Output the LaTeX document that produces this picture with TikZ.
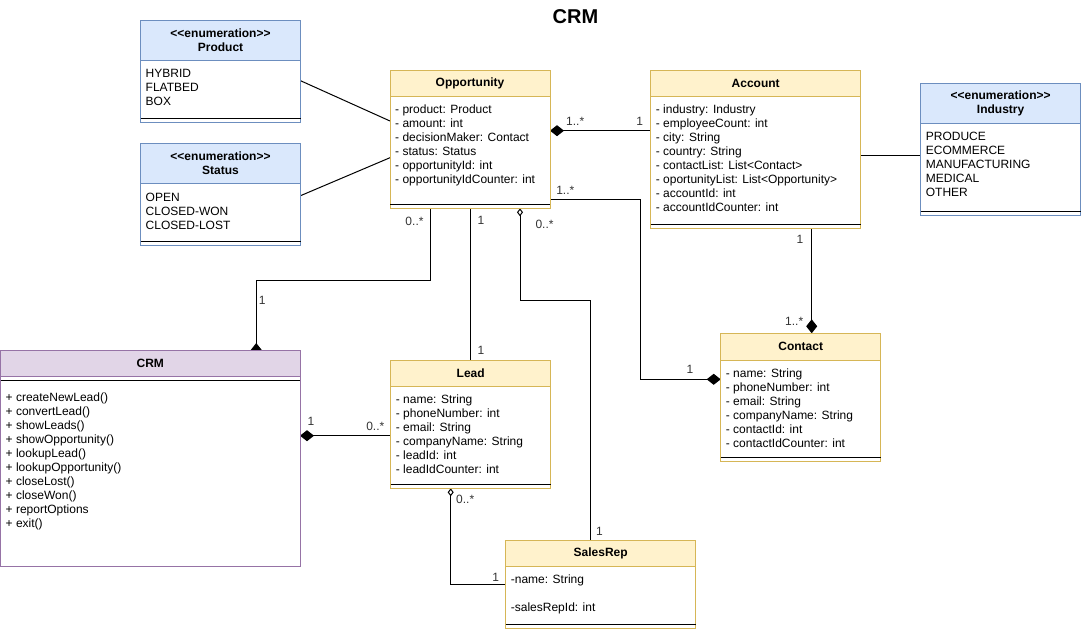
\documentclass[tikz,border=0pt]{standalone}
\usepackage{fontspec}
\setmainfont{Liberation Sans}
\usetikzlibrary{arrows.meta,positioning}

\definecolor{yfill}{HTML}{FFF2CC}
\definecolor{yline}{HTML}{D6B656}
\definecolor{bfill}{HTML}{DAE8FC}
\definecolor{bline}{HTML}{6C8EBF}
\definecolor{pfill}{HTML}{E1D5E7}
\definecolor{pline}{HTML}{9673A6}

\pgfdeclarelayer{bg}
\pgfsetlayers{bg,main}

\begin{document}
\begin{tikzpicture}[x=1pt,y=-1pt,font=\fontsize{12}{14}\selectfont]
\tikzset{head node/.style={rectangle, draw, line width=1pt, outer sep=0pt,
		inner sep=0pt, anchor=north west, align=center,
		font=\fontsize{12}{14}\selectfont\bfseries}, }
\tikzset{body node/.style={rectangle, draw, fill=white, line width=1pt,
		outer sep=0pt, anchor=north west}, }
\tikzset{yhead/.style={head node, draw=yline, fill=yfill},
	ybody/.style={body node, draw=yline}, }
\tikzset{bhead/.style={head node, draw=bline, fill=bfill},
	bbody/.style={body node, draw=bline}, }
\tikzset{phead/.style={head node, draw=pline, fill=pfill},
	pbody/.style={body node, draw=pline}, }
\tikzset{attr/.style={anchor=north west, inner sep=0pt, align=left}, }
\tikzset{sep/.style={line width=1pt}, }
\tikzset{linea/.style={line width=1pt}, }
\tikzset{comp start/.style={linea, arrows={Diamond[length=14pt,width=11pt]-}}, }
\tikzset{comp end/.style={linea, arrows={-Diamond[length=14pt,width=11pt]}}, }
\tikzset{aggr/.style={linea, arrows={Diamond[open,length=8pt,width=6pt]-}}, }
\tikzset{lbl/.style={inner sep=1pt, text=black!80}, }
\useasboundingbox (0,0) rectangle (1081,629);
    \node[font=\fontsize{20}{24}\selectfont\bfseries] (title) at (575.5,17) {CRM};
%
    \node[bhead, minimum width=160pt, minimum height=40.7pt] (prod) at (140.5,20) {<{}<enumeration>{}>\\Product};
    \node[bbody, minimum width=160pt, minimum height=61.6pt] (prod-b) at (prod.south west) {};
    \node[attr] (prod-t) at ([shift={(5pt,-8.3pt)}]prod-b.north west) {HYBRID\\FLATBED\\BOX};
    \draw[sep] ([yshift=3.6pt]prod-b.south west) -- ([yshift=3.6pt]prod-b.south east);
%
    \node[bhead, minimum width=160pt, minimum height=40pt] (stat) at (140.5,143.3) {<{}<enumeration>{}>\\Status};
    \node[bbody, minimum width=160pt, minimum height=62pt] (stat-b) at (stat.south west) {};
    \node[attr] (stat-t) at ([shift={(5pt,-9.4pt)}]stat-b.north west) {OPEN\\CLOSED-WON\\CLOSED-LOST};
    \draw[sep] ([yshift=3.6pt]stat-b.south west) -- ([yshift=3.6pt]stat-b.south east);
%
    \node[yhead, minimum width=160pt, minimum height=26.7pt] (opp) at (390,70) {Opportunity};
    \node[ybody, minimum width=160pt, minimum height=111.6pt] (opp-b) at (opp.south west) {};
    \node[attr] (opp-t) at ([shift={(5pt,-8.3pt)}]opp-b.north west) {- product: Product\\- amount: int\\- decisionMaker: Contact\\- status: Status\\- opportunityId: int\\- opportunityIdCounter: int};
    \draw[sep] ([yshift=3.6pt]opp-b.south west) -- ([yshift=3.6pt]opp-b.south east);
%
    \node[yhead, minimum width=210pt, minimum height=25.3pt] (acc) at (650.7,70.7) {Account};
    \node[ybody, minimum width=210pt, minimum height=132.3pt] (acc-b) at (acc.south west) {};
    \node[attr] (acc-t) at ([shift={(5pt,-9pt)}]acc-b.north west) {- industry: Industry\\- employeeCount: int\\- city: String\\- country: String\\- contactList: List<Contact>\\- oportunityList: List<Opportunity>\\- accountId: int\\- accountIdCounter: int};
    \draw[sep] ([yshift=3.6pt]acc-b.south west) -- ([yshift=3.6pt]acc-b.south east);
%
    \node[bhead, minimum width=159.8pt, minimum height=40pt] (ind) at (920.7,83.3) {<{}<enumeration>{}>\\Industry};
    \node[bbody, minimum width=159.8pt, minimum height=91.7pt] (ind-b) at (ind.south west) {};
    \node[attr] (ind-t) at ([shift={(5pt,-9pt)}]ind-b.north west) {PRODUCE\\ECOMMERCE\\MANUFACTURING\\MEDICAL\\OTHER};
    \draw[sep] ([yshift=3.6pt]ind-b.south west) -- ([yshift=3.6pt]ind-b.south east);
%
    \node[phead, minimum width=299.5pt, minimum height=26.7pt] (crm) at (0.5,350) {CRM};
    \node[pbody, minimum width=299.5pt, minimum height=190pt] (crm-b) at (crm.south west) {};
    \node[attr] (crm-t) at ([shift={(5pt,-16pt)}]crm-b.north west) {+ createNewLead()\\+ convertLead()\\+ showLeads()\\+ showOpportunity()\\+ lookupLead()\\+ lookupOpportunity()\\+ closeLost()\\+ closeWon()\\+ reportOptions\\+ exit()};
    \draw[sep] ([yshift=-4pt]crm-b.north west) -- ([yshift=-4pt]crm-b.north east);
%
    \node[yhead, minimum width=160pt, minimum height=25.3pt] (lead) at (390.7,360.7) {Lead};
    \node[ybody, minimum width=160pt, minimum height=102.3pt] (lead-b) at (lead.south west) {};
    \node[attr] (lead-t) at ([shift={(5pt,-9pt)}]lead-b.north west) {- name: String\\- phoneNumber: int\\- email: String\\- companyName: String\\- leadId: int\\- leadIdCounter: int};
    \draw[sep] ([yshift=3.6pt]lead-b.south west) -- ([yshift=3.6pt]lead-b.south east);
%
    \node[yhead, minimum width=160pt, minimum height=26.7pt] (cont) at (720.7,333.3) {Contact};
    \node[ybody, minimum width=160pt, minimum height=101pt] (cont-b) at (cont.south west) {};
    \node[attr] (cont-t) at ([shift={(5pt,-8.3pt)}]cont-b.north west) {- name: String\\- phoneNumber: int\\- email: String\\- companyName: String\\- contactId: int\\- contactIdCounter: int};
    \draw[sep] ([yshift=3.6pt]cont-b.south west) -- ([yshift=3.6pt]cont-b.south east);
%
    \node[yhead, minimum width=190pt, minimum height=26pt] (rep) at (505.7,540.7) {SalesRep};
    \node[ybody, minimum width=190pt, minimum height=61.6pt] (rep-b) at (rep.south west) {};
    \node[attr] (rep-t) at ([shift={(5pt,-7.7pt)}]rep-b.north west) {-name: String\\[14pt]-salesRepId: int};
    \draw[sep] ([yshift=3.6pt]rep-b.south west) -- ([yshift=3.6pt]rep-b.south east);
%
\begin{pgfonlayer}{bg}
    \draw[linea] ([yshift=-20pt]prod-b.north east) -- ([yshift=-24.3pt]opp-b.north west);
    \draw[linea] ([yshift=-12.4pt]stat-b.north east) -- ([yshift=-61pt]opp-b.north west);
    \draw[linea] ([yshift=-59.7pt]acc-b.north east) -- ([yshift=-59.7pt]acc-b.north east -| ind-b.west);
%
    \draw[comp start] ([yshift=-34pt]opp-b.north east) -- node[lbl,pos=0.25,above=4pt]{1..*} node[lbl,pos=0.89,above=4pt]{1} ([yshift=-34pt]opp-b.north east -| acc-b.west);
    \draw[comp end] ([yshift=-73pt]opp-b.north east) -- ([yshift=-103pt]opp-b.north east) -- node[lbl,pos=0.17,above=4pt]{1..*} ++(90,0) |- node[lbl,pos=0.81,above=4pt]{1} ([yshift=-19.3pt]cont-b.north west);
    \draw[comp end] ([xshift=56pt]acc-b.south) -- node[lbl,pos=0.11,left=7pt]{1} node[lbl,pos=0.89,left=7pt]{1..*} ([xshift=56pt]acc-b.south |- cont.north);
    \draw[comp end] ([xshift=40pt]opp-b.south west) -- node[lbl,pos=0.18,left=5pt]{0..*} ++(0,72) -| node[lbl,pos=0.63,right=1pt]{1} ([xshift=106pt,yshift=-7pt]crm.north);
    \draw[comp start] ([yshift=-59pt]crm-b.north east) -- node[lbl,pos=0.12,above=9pt]{1} node[lbl,pos=0.83,above=4pt]{0..*} ([yshift=-59pt]crm-b.north east -| lead-b.west);
%
    \draw[linea] (opp-b.south) -- node[lbl,pos=0.08,right=6pt]{1} node[lbl,pos=0.93,right=6pt]{1} (opp-b.south |- lead.north);
    \draw[aggr] ([xshift=50pt]opp-b.south) -- node[lbl,pos=0.18,right=14pt]{0..*} ++(0,92) -| node[lbl,pos=0.98,right=4pt]{1} ([xshift=-10pt]rep.north);
    \draw[aggr] ([xshift=-20pt]lead-b.south) |- node[lbl,pos=0.06,right=4pt]{0..*} node[lbl,pos=0.91,above=1pt]{1} ([yshift=-17.3pt]rep-b.north west);
\end{pgfonlayer}
%
\end{tikzpicture}
\end{document}
